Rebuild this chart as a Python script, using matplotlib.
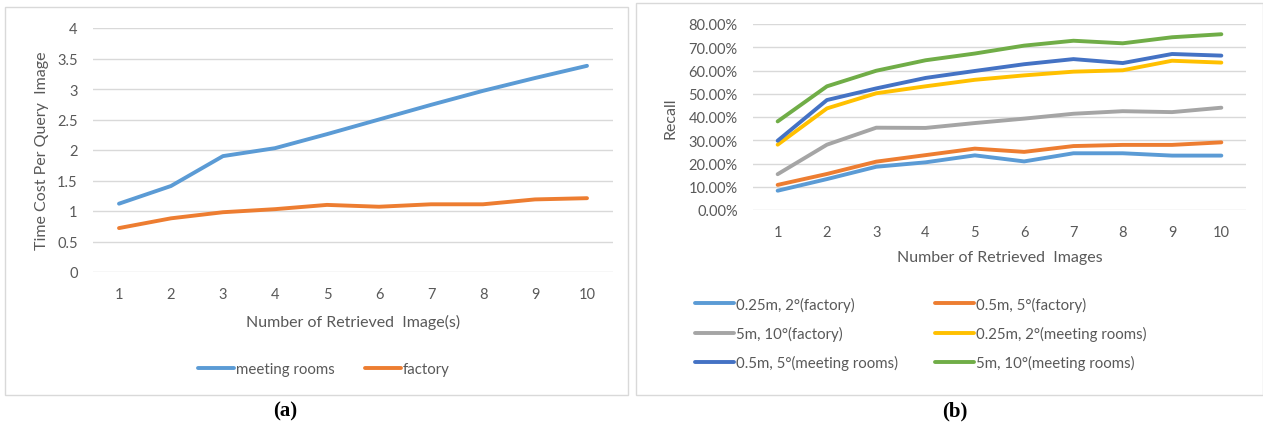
import numpy as np
import matplotlib
matplotlib.use("Agg")
import matplotlib.pyplot as plt
from matplotlib.patches import Rectangle
from matplotlib.ticker import PercentFormatter

plt.rcParams['font.family'] = ['Lato', 'DejaVu Sans']

# number of retrieved images
n_images = [1, 2, 3, 4, 5, 6, 7, 8, 9, 10]

# (a) time cost per query image
time_meeting = [1.12, 1.41, 1.90, 2.03, 2.26, 2.50, 2.74, 2.97, 3.18, 3.38]
time_factory = [0.72, 0.88, 0.98, 1.03, 1.10, 1.07, 1.11, 1.11, 1.19, 1.21]

# (b) recall under different thresholds
recall_025_factory = [8.3, 13.3, 18.6, 20.5, 23.5, 20.9, 24.4, 24.4, 23.4, 23.4]
recall_05_factory = [10.8, 15.5, 20.8, 23.6, 26.4, 25.0, 27.5, 28.0, 28.0, 29.1]
recall_5_factory = [15.4, 28.1, 35.4, 35.3, 37.4, 39.3, 41.4, 42.5, 42.1, 44.0]
recall_025_meeting = [28.1, 43.7, 50.2, 53.2, 56.0, 57.9, 59.5, 60.1, 64.2, 63.4]
recall_05_meeting = [29.8, 47.3, 52.3, 56.8, 59.8, 62.7, 64.9, 63.2, 67.1, 66.4]
recall_5_meeting = [38.1, 53.2, 59.9, 64.4, 67.3, 70.7, 72.8, 71.7, 74.3, 75.6]

recall_labels = ['0.25m, 2°(factory)', '0.5m, 5°(factory)', '5m, 10°(factory)',
                 '0.25m, 2°(meeting rooms)', '0.5m, 5°(meeting rooms)', '5m, 10°(meeting rooms)']
recall_series = [recall_025_factory, recall_05_factory, recall_5_factory,
                 recall_025_meeting, recall_05_meeting, recall_5_meeting]
recall_colors = ['#5B9BD5', '#ED7D31', '#A5A5A5', '#FFC000', '#4472C4', '#70AD47']

W, H = 1263, 427
fig = plt.figure(figsize=(W / 100, H / 100), dpi=100)
fig.patch.set_facecolor('white')

def px_axes(x0, x1, y0, y1):
    # axes from pixel box (top-left origin)
    return fig.add_axes([x0 / W, 1 - y1 / H, (x1 - x0) / W, (y1 - y0) / H])

def fxy(x, y):
    return (x / W, 1 - y / H)

def style(ax):
    for s in ax.spines.values():
        s.set_visible(False)
    ax.grid(axis='y', color='#d9d9d9', lw=1.0)
    ax.set_axisbelow(True)
    ax.tick_params(length=0, labelsize=10.5, colors='#595959')
    ax.tick_params(axis='y', pad=11)
    ax.tick_params(axis='x', pad=11)
    ax.set_xlim(0.5, 10.5)
    ax.set_xticks(n_images)

# chart frames
fig.add_artist(Rectangle(fxy(5, 396), 623 / W, 388 / H, transform=fig.transFigure,
                         fill=False, ec='#d9d9d9', lw=1.0))
fig.add_artist(Rectangle(fxy(636, 396), 627 / W, 392 / H, transform=fig.transFigure,
                         fill=False, ec='#d9d9d9', lw=1.0))

# ---- (a) ----
ax1 = px_axes(93, 613, 29, 273)
style(ax1)
ax1.plot(n_images, time_meeting, color='#5B9BD5', lw=2.8, label='meeting rooms', solid_capstyle='round')
ax1.plot(n_images, time_factory, color='#ED7D31', lw=2.8, label='factory', solid_capstyle='round')
ax1.set_ylim(0, 4)
ax1.set_yticks(np.arange(0, 4.01, 0.5))
ax1.set_yticklabels(['0', '0.5', '1', '1.5', '2', '2.5', '3', '3.5', '4'])
ax1.set_xlabel('Number of Retrieved  Image(s)', fontsize=11.5, color='#595959', labelpad=9)
ax1.set_ylabel('Time Cost Per Query  Image', fontsize=11.5, color='#595959', labelpad=6)
ax1.legend(loc='center left', bbox_to_anchor=fxy(184, 370), bbox_transform=fig.transFigure,
           ncol=2, frameon=False, fontsize=10.8, labelcolor='#595959', handlelength=2.4,
           handletextpad=0.15, columnspacing=2.0)

# ---- (b) ----
ax2 = px_axes(753, 1246, 25, 211)
style(ax2)
handles = []
for vals, lab, col in zip(recall_series, recall_labels, recall_colors):
    h, = ax2.plot(n_images, np.array(vals) / 100, color=col, lw=2.8, label=lab, solid_capstyle='round')
    handles.append(h)
ax2.set_ylim(0, 0.8)
ax2.set_yticks(np.arange(0, 0.81, 0.1))
ax2.yaxis.set_major_formatter(PercentFormatter(1.0, decimals=2))
ax2.set_xlabel('Number of Retrieved  Images', fontsize=11.5, color='#595959', labelpad=8)
ax2.set_ylabel('Recall', fontsize=11.5, color='#595959', labelpad=8)
# legend fills column by column, so reorder for row-wise reading
order = [0, 2, 4, 1, 3, 5]
ax2.legend([handles[i] for i in order], [recall_labels[i] for i in order],
           loc='upper left', bbox_to_anchor=fxy(681, 284), bbox_transform=fig.transFigure,
           ncol=2, frameon=False, fontsize=10.8, labelcolor='#595959', handlelength=2.6,
           handletextpad=0.15, columnspacing=2.45, labelspacing=0.95)

# sub-figure captions
fig.text(285 / W, 1 - 411 / H, '(a)', fontsize=15, fontweight='bold',
         family='Liberation Serif', ha='center', va='center')
fig.text(955 / W, 1 - 411 / H, '(b)', fontsize=15, fontweight='bold',
         family='Liberation Serif', ha='center', va='center')

fig.savefig('out.png', dpi=100)
